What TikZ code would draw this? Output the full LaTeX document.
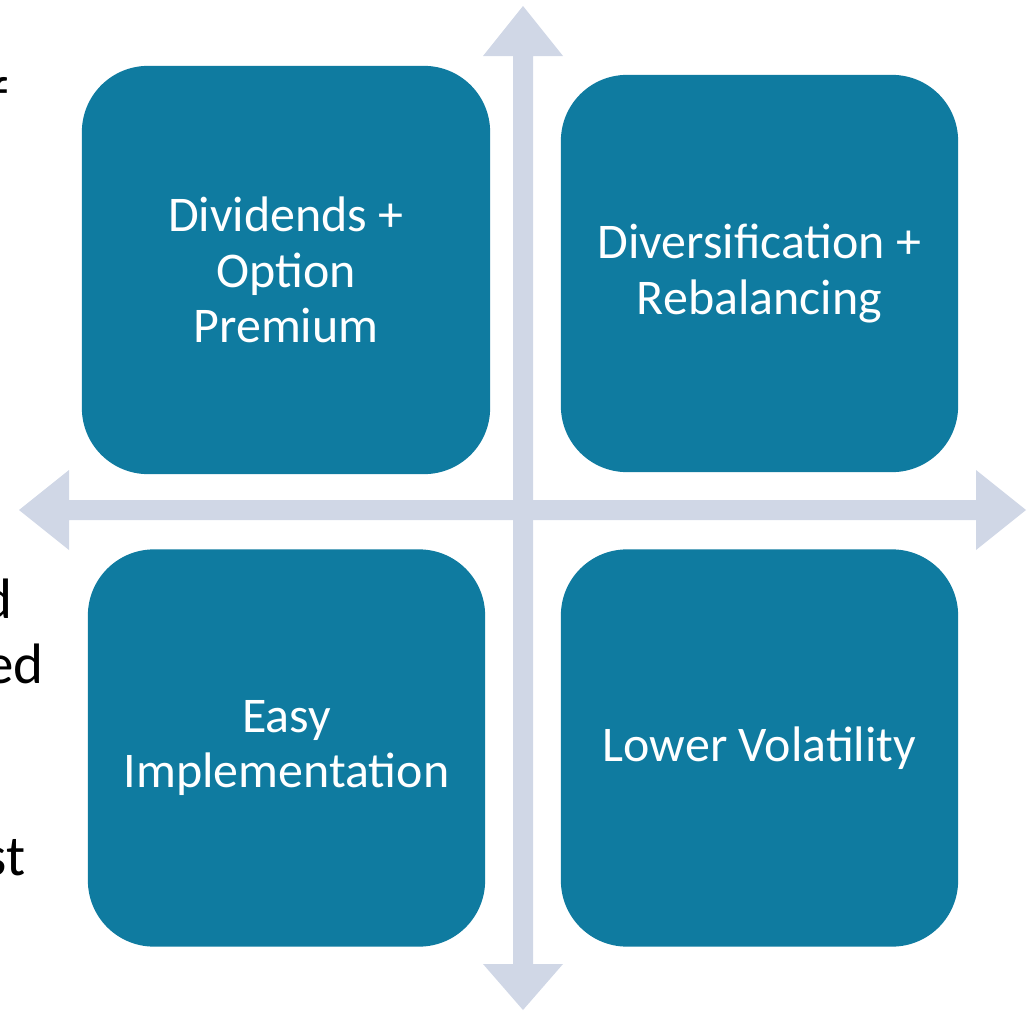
\documentclass[tikz,border=0pt]{standalone}
\usepackage{fontspec}
\setmainfont{Carlito}
\usepackage{tikz}

\definecolor{quadteal}{HTML}{0F7BA0}
\definecolor{axisgrey}{HTML}{D0D7E6}

\begin{document}
\begin{tikzpicture}
            [x=0.01cm,y=-0.01cm,
             quad/.style={rectangle,rounded corners=0.66cm,fill=quadteal,text=white,align=center,
                 minimum width=3.97cm,minimum height=3.97cm,inner sep=0pt,
                 font=\fontsize{14.2pt}{15.7pt}\selectfont},
             side/.style={anchor=base east,inner sep=0pt,text=black,font=\fontsize{16.2pt}{19pt}\selectfont}]
            \useasboundingbox (0,0) rectangle (1027,1012);
            \clip (0,0) rectangle (1027,1012);
            % axes
            \fill[axisgrey] (19,510) -- (69,470) -- (69,500) -- (976,500) -- (976,470) -- (1026,510)
                -- (976,550) -- (976,520) -- (69,520) -- (69,550) -- cycle;
            \fill[axisgrey] (523,6) -- (563,56) -- (533,56) -- (533,964) -- (563,964) -- (523,1010)
                -- (483,964) -- (513,964) -- (513,56) -- (483,56) -- cycle;
            % quadrants
            \node[quad,minimum width=4.08cm,minimum height=4.08cm] (divs) at (286,270) {Dividends +\\Option\\Premium};
            \node[quad] (divers) at (759.5,273.5) {Diversification +\\Rebalancing};
            \node[quad] (easy) at (286.5,748) {Easy\\Implementation};
            \node[quad] (lowvol) at (759.5,748) {Lower Volatility};
            % cut off text on the left
            \node[side] (tf) at (9,116) {f};
            \node[side] (td) at (13,618) {d};
            \node[side] (ted) at (44,683) {ed};
            \node[side] (tst) at (26,875) {st};
\end{tikzpicture}
\end{document}
